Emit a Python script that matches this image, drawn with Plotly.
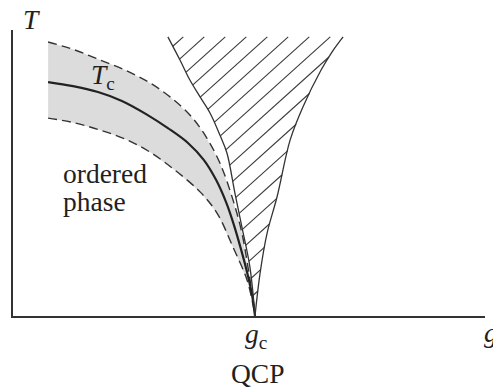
import numpy as np
import plotly.graph_objects as go

# ---- curves (g in units of g_c, T in units of the axis height) ----
tc_g = [0.145, 0.248, 0.351, 0.450, 0.550, 0.640, 0.723, 0.789, 0.839, 0.880, 0.913, 0.942, 0.967, 0.988, 1.0]
tc_T = [0.818, 0.804, 0.783, 0.752, 0.706, 0.657, 0.605, 0.545, 0.476, 0.399, 0.318, 0.234, 0.154, 0.073, 0.0]

up_g = [0.145, 0.256, 0.360, 0.463, 0.566, 0.649, 0.731, 0.793, 0.855, 0.909, 0.946, 0.971, 0.992, 1.0]
up_T = [0.958, 0.930, 0.895, 0.860, 0.815, 0.766, 0.703, 0.633, 0.535, 0.406, 0.290, 0.171, 0.056, 0.0]

lo_g = [0.145, 0.256, 0.360, 0.463, 0.566, 0.669, 0.773, 0.843, 0.909, 0.967, 0.992, 1.0]
lo_T = [0.692, 0.675, 0.650, 0.619, 0.573, 0.510, 0.434, 0.360, 0.241, 0.126, 0.038, 0.0]

hl_g = [0.640, 0.690, 0.731, 0.773, 0.814, 0.855, 0.884, 0.917, 0.946, 0.979, 1.0]
hl_T = [0.976, 0.895, 0.825, 0.766, 0.710, 0.633, 0.570, 0.430, 0.311, 0.171, 0.0]

hr_g = [1.364, 1.318, 1.273, 1.198, 1.145, 1.091, 1.050, 1.021, 1.0]
hr_T = [0.976, 0.923, 0.860, 0.731, 0.615, 0.416, 0.290, 0.150, 0.0]

labels = {"T": "<i>T</i>", "Tc": "<i>T</i><sub>c</sub>", "gc": "<i>g</i><sub>c</sub>",
          "g": "<i>g</i>", "qcp": "QCP", "ord1": "ordered", "ord2": "phase"}

# ---- layout geometry ----
W, H = 493, 389
ML, MR, MT, MB = 13, 8, 30, 73
PW, PH = W - ML - MR, H - MT - MB
GMAX = 1.9504
TMAX = 1.0
sx, sy = PW / GMAX, PH / TMAX

INK = "#231f20"
FONT = "Liberation Serif, Times New Roman, serif"

fig = go.Figure()

# gray band between dashed curves
fig.add_trace(go.Scatter(x=up_g + lo_g[::-1], y=up_T + lo_T[::-1], fill="toself",
                         fillcolor="#dcdcdd", line=dict(width=0), mode="lines",
                         hoverinfo="skip", showlegend=False))
for gg, TT in ((up_g, up_T), (lo_g, lo_T)):
    fig.add_trace(go.Scatter(x=gg, y=TT, mode="lines", showlegend=False,
                             line=dict(color="#333", width=1.4, dash="9px,5px", shape="spline")))
fig.add_trace(go.Scatter(x=tc_g, y=tc_T, mode="lines", showlegend=False,
                         line=dict(color="#222", width=2.2, shape="spline")))

# hatching inside the quantum critical fan
m = 0.9
spacing = 21.0
u_top0 = 170.3
vt = max(hl_T) * sy
hlv, hlu = np.array(hl_T[::-1]) * sy, np.array(hl_g[::-1]) * sx
hrv, hru = np.array(hr_T[::-1]) * sy, np.array(hr_g[::-1]) * sx
u = np.linspace(0, PW, 6000)
hx, hy = [], []
for k in range(-30, 30):
    ut = u_top0 + spacing * k
    v = vt - m * (ut - u)
    inside = (v >= 0) & (v <= vt) & (u >= np.interp(v, hlv, hlu)) & (u <= np.interp(v, hrv, hru))
    if inside.sum() > 1:
        idx = np.where(inside)[0]
        i0, i1 = idx[0], idx[-1]
        hx += [u[i0] / sx, u[i1] / sx, None]
        hy += [v[i0] / sy, v[i1] / sy, None]
fig.add_trace(go.Scatter(x=hx, y=hy, mode="lines", showlegend=False,
                         line=dict(color="#3a3a3a", width=1.1)))
for gg, TT in ((hl_g, hl_T), (hr_g, hr_T)):
    fig.add_trace(go.Scatter(x=gg, y=TT, mode="lines", showlegend=False,
                             line=dict(color="#333", width=1.3, shape="spline")))

def pxp(px):
    return (px - ML) / PW

def pyp(py):
    return (H - MB - py) / PH

ann = [
    (labels["T"], 31, 20, "center", 27.5),
    (labels["Tc"], 89, 76, "left", 27.5),
    (labels["ord1"], 61, 173, "left", 27.5),
    (labels["ord2"], 61, 201, "left", 27.5),
    (labels["gc"], 256, 335, "center", 27.5),
    (labels["qcp"], 258, 373, "center", 27.5),
    (labels["g"], 482, 332, "left", 27.5),
]
for text, px, py, xa, fs in ann:
    fig.add_annotation(x=pxp(px), y=pyp(py), xref="paper", yref="paper", text=text,
                       showarrow=False, xanchor=xa, yanchor="middle",
                       font=dict(family=FONT, size=fs, color=INK))

fig.update_layout(
    width=W, height=H, autosize=False,
    margin=dict(l=ML, r=MR, t=MT, b=MB, pad=0),
    paper_bgcolor="white", plot_bgcolor="white",
    xaxis=dict(range=[0, GMAX], showgrid=False, zeroline=False, showticklabels=False,
               ticks="", showline=True, linecolor="#333", linewidth=1.5, fixedrange=True),
    yaxis=dict(range=[0, TMAX], showgrid=False, zeroline=False, showticklabels=False,
               ticks="", showline=True, linecolor="#333", linewidth=1.5, fixedrange=True),
)

fig.write_html("out.html")
